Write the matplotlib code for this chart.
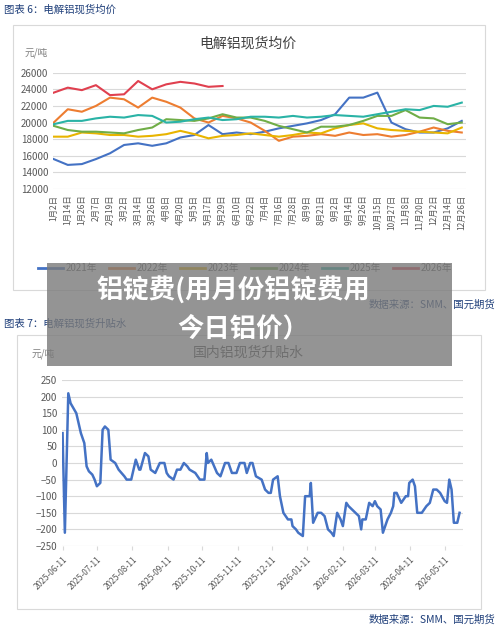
import matplotlib
matplotlib.use("Agg")
import matplotlib.pyplot as plt
from matplotlib.patches import Rectangle
from matplotlib.lines import Line2D

plt.rcParams['font.family'] = ['Noto Sans CJK SC', 'DejaVu Sans']

# ---- chart 1 data ----
labels1 = ["1月2日","1月14日","1月26日","2月7日","2月19日","3月2日","3月14日","3月26日","4月8日","4月20日",
           "5月5日","5月17日","5月29日","6月10日","6月22日","7月4日","7月16日","7月28日","8月9日","8月21日",
           "9月2日","9月14日","9月26日","10月15日","10月27日","11月8日","11月20日","12月2日","12月14日","12月26日"]
y2021 = [15600,14900,15000,15600,16300,17300,17500,17200,17500,18200,18500,19700,18600,18800,18600,18900,19300,19600,19900,20300,21000,23000,23000,23600,20000,19200,18800,18800,19300,20200]
y2022 = [20000,21600,21300,22000,23000,22800,21800,23000,22500,21800,20500,20000,20800,20500,20000,19000,17800,18300,18400,18600,18400,18800,18500,18600,18300,18500,18900,19400,19000,18800]
y2023 = [18300,18300,18800,18700,18500,18500,18300,18400,18600,19000,18600,18100,18400,18500,18700,18500,18300,18500,18800,18700,19300,19700,19900,19300,19100,19000,18900,18800,18700,19400]
y2024 = [19600,19100,18900,18900,18800,18700,19100,19400,20400,20300,20200,20500,21000,20600,20600,20200,19600,19200,18800,19500,19500,19700,20200,20800,20800,21500,20600,20500,19800,20000]
y2025 = [19800,20200,20200,20500,20700,20600,20900,20800,20000,20100,20400,20600,20300,20400,20700,20700,20600,20800,20600,20700,20900,20800,20700,21000,21300,21600,21500,22000,21900,22400]
y2026 = [23600,24200,23900,24500,23300,23400,25000,24000,24600,24900,24700,24300,24400]
series1 = [("2021年",y2021,"#4472C4"),("2022年",y2022,"#ED7D31"),("2023年",y2023,"#E8B400"),
           ("2024年",y2024,"#70AD47"),("2025年",y2025,"#2AB3A6"),("2026年",y2026,"#E0404F")]

# ---- chart 2 data ----
days2 = [0,2,5,7,12,14,16,19,21,23,26,28,30,33,35,37,40,42,46,49,54,56,60,64,67,68,72,75,77,81,85,89,91,93,97,100,103,106,109,111,116,120,124,126,127,130,135,138,142,145,148,152,155,159,161,164,166,169,174,177,180,182,184,188,190,193,197,200,201,204,206,210,212,216,217,219,223,226,229,232,235,237,240,243,245,248,250,253,256,259,261,262,265,268,271,273,275,278,280,284,287,289,290,292,296,300,302,303,306,308,310,314,316,318,321,324,327,330,334,336,338,340,342,345,347]
vals2 = [90,-210,210,180,150,120,90,60,-10,-25,-35,-50,-70,-60,100,110,100,10,0,-20,-40,-50,-50,10,-20,-20,30,20,-20,-30,0,0,-30,-40,-50,-20,-20,0,-10,-20,-30,-50,-50,30,0,10,-30,-40,0,0,-30,-30,0,0,-30,0,0,-40,-50,-80,-90,-90,-50,-40,-100,-150,-170,-170,-190,-200,-210,-220,-100,-100,-60,-180,-150,-150,-160,-200,-210,-220,-150,-170,-190,-120,-130,-140,-150,-160,-200,-170,-170,-120,-130,-115,-130,-140,-210,-170,-150,-130,-90,-90,-120,-100,-100,-60,-50,-70,-150,-150,-140,-130,-120,-80,-80,-90,-115,-120,-50,-80,-180,-180,-150]
tick_days2 = [0,30,61,92,122,153,183,214,245,273,304,334]
tick_labels2 = ["2025-06-11","2025-07-11","2025-08-11","2025-09-11","2025-10-11","2025-11-11","2025-12-11",
                "2026-01-11","2026-02-11","2026-03-11","2026-04-11","2026-05-11"]

W, H = 500, 630
fig = plt.figure(figsize=(5, 6.3), dpi=100)
fig.patch.set_facecolor("white")

def fx(x): return x / W
def fy(y): return 1 - y / H

cap = "#1F3F7A"
grey = "#595959"

# boxes
for (x0, y0, x1, y1) in [(13, 25, 485, 290), (17, 335, 481, 609)]:
    fig.patches.append(Rectangle((fx(x0), fy(y1)), fx(x1 - x0), (y1 - y0) / H, transform=fig.transFigure,
                                 fill=False, edgecolor="#D9D9D9", lw=0.8))

fig.text(fx(4), fy(10), "图表 6：电解铝现货均价", color=cap, fontsize=7.5, va="center")
fig.text(fx(248), fy(44), "电解铝现货均价", color="#404040", fontsize=10, ha="center", va="center")
fig.text(fx(25), fy(53), "元/吨", color="#7f7f7f", fontsize=7, va="center")

ax1 = fig.add_axes([fx(53), fy(189), (466 - 53) / W, (189 - 72.7) / H])
for name, ys, c in series1:
    ax1.plot(range(len(ys)), ys, color=c, lw=1.5)
ax1.set_xlim(-0.05, 29.3)
ax1.set_ylim(12000, 26000)
ax1.set_yticks(range(12000, 26001, 2000))
ax1.set_xticks(range(len(labels1)))
ax1.set_xticklabels(labels1, rotation=90, fontsize=6, color=grey)
ax1.tick_params(axis="y", labelsize=7, colors=grey, length=0)
ax1.tick_params(axis="x", length=0, pad=4)
ax1.grid(axis="y", color="#D9D9D9", lw=0.8)
ax1.set_axisbelow(True)
for s in ax1.spines.values():
    s.set_visible(False)

# legend chart 1
for i, (name, ys, c) in enumerate(series1):
    x = 38 + i * 71
    fig.add_artist(Line2D([fx(x), fx(x + 25)], [fy(268), fy(268)], color=c, lw=2, transform=fig.transFigure))
    fig.text(fx(x + 28), fy(268), name, fontsize=7, color=grey, va="center")

fig.text(fx(495), fy(305), "数据来源：SMM、国元期货", color=cap, fontsize=7.5, ha="right", va="center")
fig.text(fx(4), fy(324), "图表 7：电解铝现货升贴水", color=cap, fontsize=7.5, va="center")
fig.text(fx(248), fy(353), "国内铝现货升贴水", color="#404040", fontsize=10, ha="center", va="center")
fig.text(fx(32), fy(354), "元/吨", color="#7f7f7f", fontsize=7, va="center")

ax2 = fig.add_axes([fx(62), fy(546), (463 - 62) / W, (546 - 380) / H])
ax2.plot(days2, vals2, color="#4472C4", lw=1.8)
ax2.set_xlim(-0.5, 350)
ax2.set_ylim(-250, 250)
ax2.set_yticks(range(-250, 251, 50))
ax2.set_xticks(tick_days2)
ax2.set_xticklabels(tick_labels2, rotation=45, ha="right", rotation_mode="anchor", fontsize=6, color=grey)
ax2.tick_params(axis="y", labelsize=7, colors=grey, length=0)
ax2.tick_params(axis="x", length=3, color="#D9D9D9")
ax2.grid(axis="y", color="#D9D9D9", lw=0.8)
ax2.set_axisbelow(True)
for s in ax2.spines.values():
    s.set_visible(False)

fig.text(fx(495), fy(620), "数据来源：SMM、国元期货", color=cap, fontsize=7.5, ha="right", va="center")

# overlay
fig.patches.append(Rectangle((fx(47), fy(366)), fx(452 - 47), (366 - 263) / H, transform=fig.transFigure,
                             facecolor="#7a7a7a", alpha=0.8, edgecolor="none", zorder=10))
fig.text(fx(233), fy(291), "铝锭费(用月份铝锭费用", color="white", fontsize=19, fontweight="bold",
         ha="center", va="center", zorder=11)
fig.text(fx(243), fy(329), "今日铝价）", color="white", fontsize=19, fontweight="bold",
         ha="center", va="center", zorder=11)

fig.savefig("out.png", dpi=100)
